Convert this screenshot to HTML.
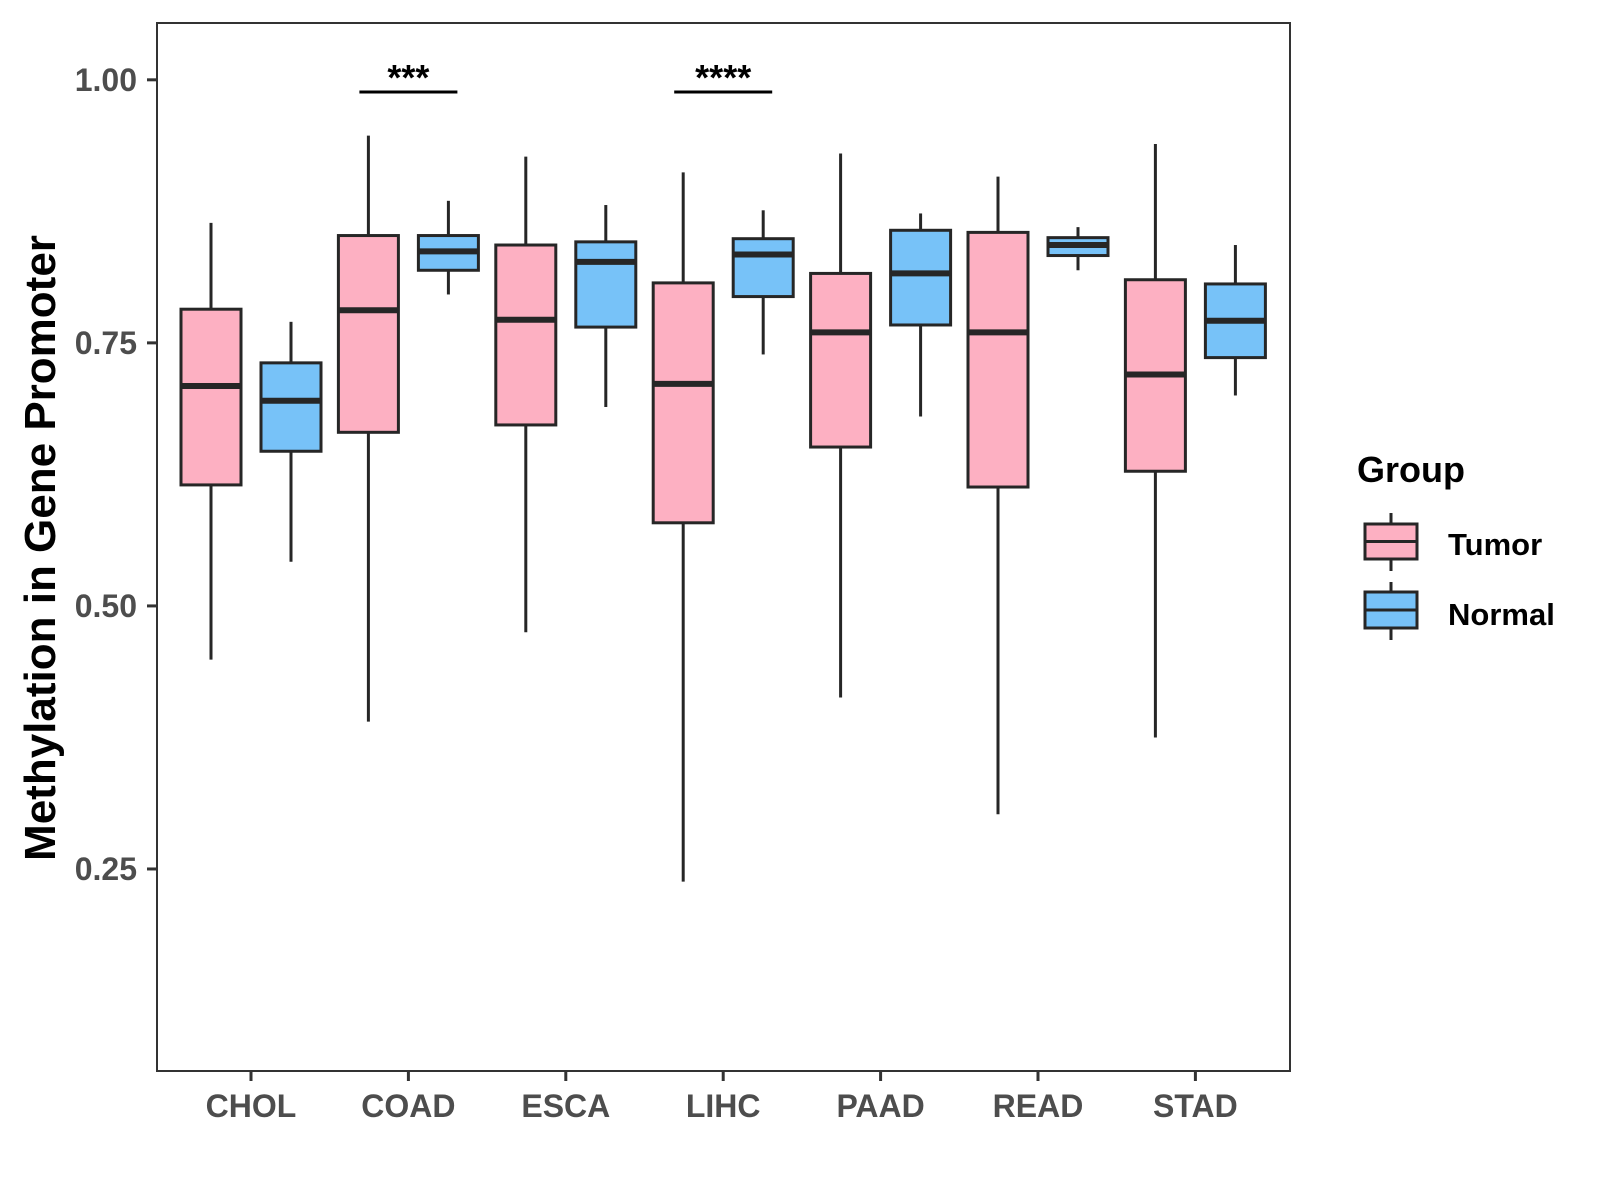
<!DOCTYPE html>
<html><head><meta charset="utf-8"><style>
body{margin:0;background:#fff}
svg{display:block;font-family:"Liberation Sans",Arial,sans-serif;font-weight:bold}
</style></head><body>
<svg id="chart" width="1600" height="1200" viewBox="0 0 1600 1200">
</svg>
<script>
const categories=["CHOL","COAD","ESCA","LIHC","PAAD","READ","STAD"];
const tumorMax=[0.864,0.947,0.927,0.912,0.930,0.908,0.939];
const tumorQ3=[0.782,0.852,0.843,0.807,0.816,0.855,0.810];
const tumorMed=[0.709,0.781,0.772,0.711,0.760,0.760,0.720];
const tumorQ1=[0.615,0.665,0.672,0.579,0.651,0.613,0.628];
const tumorMin=[0.449,0.390,0.475,0.238,0.413,0.302,0.375];
const normalMax=[0.770,0.885,0.881,0.876,0.873,0.860,0.843];
const normalQ3=[0.731,0.852,0.846,0.849,0.857,0.850,0.806];
const normalMed=[0.695,0.837,0.827,0.834,0.816,0.843,0.771];
const normalQ1=[0.647,0.819,0.765,0.794,0.767,0.833,0.736];
const normalMin=[0.542,0.796,0.689,0.739,0.680,0.819,0.700];
const yTicks=[0.25,0.50,0.75,1.00];
const yTickLabels=["0.25","0.50","0.75","1.00"];
const sigCats=["COAD","LIHC"];
const sigLabels=["***","****"];

const NS="http://www.w3.org/2000/svg";
const svg=document.getElementById('chart');
const L=157,R=1290,T=23,B=1071;
const yMin=0.058,yMax=1.054;
function y(v){return B-(v-yMin)/(yMax-yMin)*(B-T);}
const step=157.4, x0=251;
function xc(i){return x0+i*step;}
function el(tag,attrs,parent){const e=document.createElementNS(NS,tag);for(const k in attrs)e.setAttribute(k,attrs[k]);(parent||svg).appendChild(e);return e;}

const border=el('rect',{x:L,y:T,width:R-L,height:B-T,fill:'none',stroke:'#333',"stroke-width":2});



yTicks.forEach((v,i)=>{
  const t=el('line',{x1:L-10,x2:L,y1:y(v),y2:y(v),stroke:'#333',"stroke-width":3});
  
  
  const tx=el('text',{x:L-20,y:y(v)+11,"text-anchor":"end","font-size":32,fill:'#4d4d4d'});
  tx.textContent=yTickLabels[i];
  
  
});

function box(cx,mx,q3,md,q1,mn,fill,name){
  const g=el('g',{});
  
  
  const w=60;
  el('line',{x1:cx,x2:cx,y1:y(mx),y2:y(q3),stroke:'#262626',"stroke-width":3},g);
  el('line',{x1:cx,x2:cx,y1:y(q1),y2:y(mn),stroke:'#262626',"stroke-width":3},g);
  el('rect',{x:cx-w/2,y:y(q3),width:w,height:y(q1)-y(q3),fill:fill,stroke:'#262626',"stroke-width":3},g);
  el('line',{x1:cx-w/2,x2:cx+w/2,y1:y(md),y2:y(md),stroke:'#262626',"stroke-width":6},g);
}
categories.forEach((c,i)=>{
  box(xc(i)-40,tumorMax[i],tumorQ3[i],tumorMed[i],tumorQ1[i],tumorMin[i],'#fdb0c2','box-tumor-'+c.toLowerCase());
  box(xc(i)+40,normalMax[i],normalQ3[i],normalMed[i],normalQ1[i],normalMin[i],'#77c2f8','box-normal-'+c.toLowerCase());
  const t=el('line',{x1:xc(i),x2:xc(i),y1:B,y2:B+10,stroke:'#333',"stroke-width":3});
  
  
  const tx=el('text',{x:xc(i),y:1117,"text-anchor":"middle","font-size":32,fill:'#4d4d4d'});
  tx.textContent=c;
  
  
});

sigCats.forEach((c,k)=>{
  const i=categories.indexOf(c);
  const b=el('line',{x1:xc(i)-49,x2:xc(i)+49,y1:92,y2:92,stroke:'#000',"stroke-width":3});
  
  
  const s=el('text',{x:xc(i),y:90,"text-anchor":"middle","font-size":36,fill:'#000'});
  s.textContent=sigLabels[k];
  
  
});

const yt=el('text',{x:0,y:0,transform:'translate(55,548) rotate(-90)',"text-anchor":"middle","font-size":44,fill:'#000'});
yt.textContent='Methylation in Gene Promoter';



const lt=el('text',{x:1357,y:482,"font-size":36,fill:'#000'});
lt.textContent='Group';


[["Tumor",'#fdb0c2',513,524,559,571,554],["Normal",'#77c2f8',582,592,628,640,624]].forEach(d=>{
  const g=el('g',{});
  
  
  el('line',{x1:1391,x2:1391,y1:d[2],y2:d[5],stroke:'#262626',"stroke-width":3},g);
  el('rect',{x:1365,y:d[3],width:52,height:d[4]-d[3],fill:d[1],stroke:'#262626',"stroke-width":3},g);
  el('line',{x1:1365,x2:1417,y1:(d[3]+d[4])/2,y2:(d[3]+d[4])/2,stroke:'#262626',"stroke-width":3},g);
  const t=el('text',{x:1448,y:d[6]+1,"font-size":31,fill:'#000'},g);
  t.textContent=d[0];
});
</script>
</body></html>
